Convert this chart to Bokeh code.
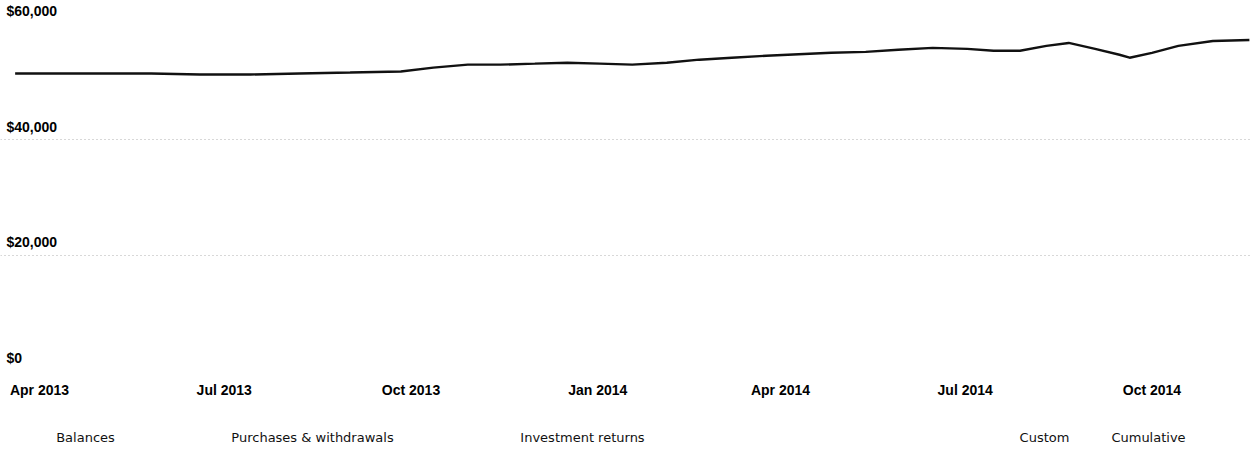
import datetime as dt
from bokeh.plotting import figure
from bokeh.layouts import column
from bokeh.models import Range1d, FixedTicker, ColumnDataSource
from bokeh.core.properties import value
from bokeh.embed import file_html
from bokeh.resources import INLINE

# ---------------- data ----------------
dates = ["2013-03-20", "2013-04-11", "2013-05-01", "2013-05-26", "2013-06-19",
         "2013-07-14", "2013-08-07", "2013-09-01", "2013-09-26", "2013-10-12",
         "2013-10-29", "2013-11-14", "2013-12-01", "2013-12-17", "2014-01-02",
         "2014-01-18", "2014-02-04", "2014-02-20", "2014-03-08", "2014-03-25",
         "2014-04-10", "2014-04-26", "2014-05-13", "2014-05-29", "2014-06-15",
         "2014-07-02", "2014-07-15", "2014-07-28", "2014-08-10", "2014-08-21",
         "2014-09-03", "2014-09-15", "2014-09-20", "2014-10-01", "2014-10-14",
         "2014-10-31", "2014-11-18"]
balances = [51450, 51450, 51450, 51450, 51280, 51280, 51450, 51620, 51800, 52480,
            52990, 52990, 53160, 53330, 53160, 52990, 53330, 53850, 54190, 54530,
            54790, 55040, 55210, 55560, 55900, 55730, 55390, 55390, 56240, 56750,
            55730, 54700, 54190, 55040, 56240, 57090, 57270]

y_ticks = [0, 20000, 40000, 60000]
y_tick_labels = ["$0", "$20,000", "$40,000", "$60,000"]
grid_values = [20000, 40000]

x_tick_dates = ["2013-04-01", "2013-07-01", "2013-10-01", "2014-01-01",
                "2014-04-01", "2014-07-01", "2014-10-01"]
x_tick_labels = ["Apr 2013", "Jul 2013", "Oct 2013", "Jan 2014",
                 "Apr 2014", "Jul 2014", "Oct 2014"]

legend_labels = ["Balances", "Purchases & withdrawals", "Investment returns",
                 "Custom", "Cumulative"]

# ---------------- helpers ----------------
def to_dt(s):
    return dt.datetime.strptime(s, "%Y-%m-%d")

def to_ms(d):
    return int((d - dt.datetime(1970, 1, 1)).total_seconds() * 1000)

x_dates = [to_dt(s) for s in dates]
tick_ms = [to_ms(to_dt(s)) for s in x_tick_dates]

x_start = dt.datetime(2013, 3, 12, 19)
x_end = dt.datetime(2014, 11, 18, 13)

FONT = "Liberation Sans"
LFONT = "DejaVu Sans"

p = figure(width=1250, height=400, x_axis_type="datetime",
           x_range=Range1d(x_start, x_end),
           y_range=Range1d(0, 64103),
           toolbar_location=None, output_backend="svg",
           min_border_left=0, min_border_right=0,
           min_border_top=0, min_border_bottom=25)
p.outline_line_color = None
p.background_fill_color = "white"
p.border_fill_color = "white"

# grid
p.xgrid.visible = False
p.ygrid.ticker = FixedTicker(ticks=grid_values)
p.ygrid.grid_line_color = "#b0b0b0"
p.ygrid.grid_line_dash = "1 3"
p.ygrid.grid_line_width = 1

# y axis hidden, labels drawn above grid lines
p.yaxis.visible = False
ysrc = ColumnDataSource(dict(x=[x_start] * len(y_ticks), y=y_ticks, t=y_tick_labels))
p.text(x="x", y="y", text="t", source=ysrc, text_align="left",
       text_baseline="middle", y_offset=-13, x_offset=6,
       text_font=value(FONT), text_font_style="bold",
       text_font_size="14px", text_color="#000000")

# x axis
xa = p.xaxis[0]
xa.ticker = FixedTicker(ticks=tick_ms)
xa.major_label_overrides = {m: lab for m, lab in zip(tick_ms, x_tick_labels)}
xa.axis_line_color = None
xa.major_tick_line_color = None
xa.minor_tick_line_color = None
xa.major_label_standoff = 5
xa.major_label_text_font = FONT
xa.major_label_text_font_style = "bold"
xa.major_label_text_font_size = "14px"
xa.major_label_text_color = "#000000"

# balance line
src = ColumnDataSource(dict(x=x_dates, y=balances))
p.line(x="x", y="y", source=src, line_color="#111111", line_width=2.4)

# ---------------- legend / tabs row ----------------
lg = figure(width=1250, height=49, x_range=Range1d(0, 1250), y_range=Range1d(0, 49),
            toolbar_location=None, output_backend="svg",
            min_border=0, min_border_left=0, min_border_right=0,
            min_border_top=0, min_border_bottom=0)
lg.axis.visible = False
lg.grid.visible = False
lg.outline_line_color = None
legend_x = [85, 312, 582, 1044, 1148]
lsrc = ColumnDataSource(dict(x=legend_x, y=[12] * len(legend_labels), t=legend_labels))
lg.text(x="x", y="y", text="t", source=lsrc, text_align="center",
        text_baseline="middle", text_font=value(LFONT),
        text_font_size="13px", text_color="#111111")

layout = column(p, lg, spacing=0)
open("out.html", "w").write(file_html(layout, INLINE))
